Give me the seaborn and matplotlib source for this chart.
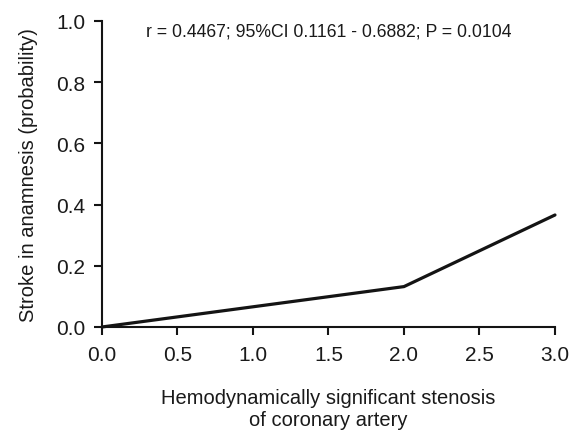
import matplotlib
matplotlib.use("Agg")
import matplotlib.pyplot as plt
import seaborn as sns
import pandas as pd

stenosis = [0.0, 2.0, 3.0]
stroke_prob = [0.0, 0.132, 0.366]
x_ticks = [0.0, 0.5, 1.0, 1.5, 2.0, 2.5, 3.0]
y_ticks = [0.0, 0.2, 0.4, 0.6, 0.8, 1.0]

sns.set_style("ticks")
plt.rcParams['font.family'] = ['Liberation Sans', 'DejaVu Sans']

fig = plt.figure(figsize=(5.76, 4.31), dpi=100)
ax = fig.add_axes([0.177, 0.239, 0.7865, 0.71])

df = pd.DataFrame({"x": stenosis, "y": stroke_prob})
sns.lineplot(data=df, x="x", y="y", ax=ax, color="#141414", linewidth=2.3, clip_on=False)

ax.set_xlim(0, 3)
ax.set_ylim(0, 1)
ax.set_xticks(x_ticks)
ax.set_yticks(y_ticks)
ax.set_xticklabels([f"{v:.1f}" for v in x_ticks])
ax.set_yticklabels([f"{v:.1f}" for v in y_ticks])
ax.tick_params(axis="both", direction="out", length=6, width=1.5, labelsize=15,
               color="#141414", labelcolor="#1a1a1a")
ax.tick_params(axis="x", pad=7)
ax.tick_params(axis="y", pad=6)
for s in ["top", "right"]:
    ax.spines[s].set_visible(False)
for s in ["left", "bottom"]:
    ax.spines[s].set_linewidth(1.5)
    ax.spines[s].set_color("#141414")

ax.set_xlabel("Hemodynamically significant stenosis\nof coronary artery", fontsize=14.5,
              color="#1a1a1a", labelpad=17, linespacing=1.2)
ax.set_ylabel("Stroke in anamnesis (probability)", fontsize=14.5, color="#1a1a1a", labelpad=13)

ax.text(1.5, 0.967, "r = 0.4467; 95%CI 0.1161 - 0.6882; P = 0.0104", ha="center", va="center",
        fontsize=12.7, color="#1a1a1a")

fig.savefig("out.png", dpi=100)
